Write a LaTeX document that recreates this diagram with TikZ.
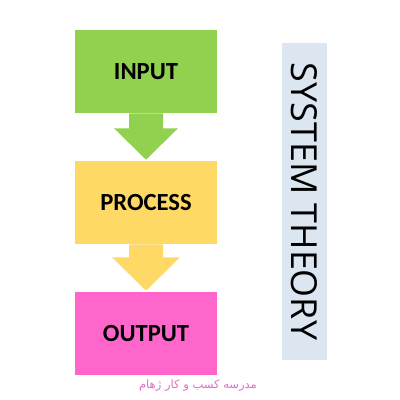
\documentclass[tikz,border=0pt]{standalone}
\usepackage{fontspec}
\setmainfont{Carlito}
\newfontfamily\titlefont{Open Sans}
\newfontfamily\arabicfont[Script=Arabic]{DejaVu Sans}
\TeXXeTstate=1
\usepackage{xcolor}
\usetikzlibrary{calc,positioning}
\definecolor{inputgreen}{HTML}{92D050}
\definecolor{processyellow}{HTML}{FFD966}
\definecolor{outputpink}{HTML}{FF66CC}
\definecolor{theoryblue}{HTML}{DCE6F1}
\definecolor{logopink}{HTML}{E36BC8}
\tikzset{
  stage/.style={minimum width=142*0.025cm, minimum height=83*0.025cm, inner sep=0pt,
    font=\bfseries\fontsize{17.5}{19}\selectfont, text=black},
}
\begin{document}
\begin{tikzpicture}[x=0.025cm, y=-0.025cm]
            \useasboundingbox (0,0) rectangle (400,400);
            % the three stages
            \node[stage, fill=inputgreen] (input) at (146,71.5) {INPUT};
            \node[stage, fill=processyellow] (process) at (146,202.5) {PROCESS};
            \node[stage, fill=outputpink] (output) at (146,333.5) {OUTPUT};
            % block arrows between them
            \fill[inputgreen] ($(input.south)+(-17,0)$) -- ++(0,15) -- ++(-15,0) -- ($(process.north)+(0,-1)$)
                -- ($(input.south)+(32,15)$) -- ++(-15,0) -- ($(input.south)+(17,0)$) -- cycle;
            \fill[processyellow] ($(process.south)+(-17,0)$) -- ++(0,13) -- ++(-17,0) -- ($(output.north)+(0,-1)$)
                -- ($(process.south)+(34,13)$) -- ++(-17,0) -- ($(process.south)+(17,0)$) -- cycle;
            % title on the right
            \node[fill=theoryblue, minimum width=317*0.025cm, minimum height=45*0.025cm, inner sep=0pt,
                  rotate=-90, font=\titlefont\fontsize{25.5}{28}\selectfont] (theory) at (304.5,201.5) {SYSTEM THEORY};
            % logo text
            \node[text=logopink, font=\arabicfont\fontsize{8.2}{10}\selectfont, inner sep=0pt]
                (logo) at (198,386) {\beginR مدرسه کسب و کار ژهام\endR};
\end{tikzpicture}
\end{document}
